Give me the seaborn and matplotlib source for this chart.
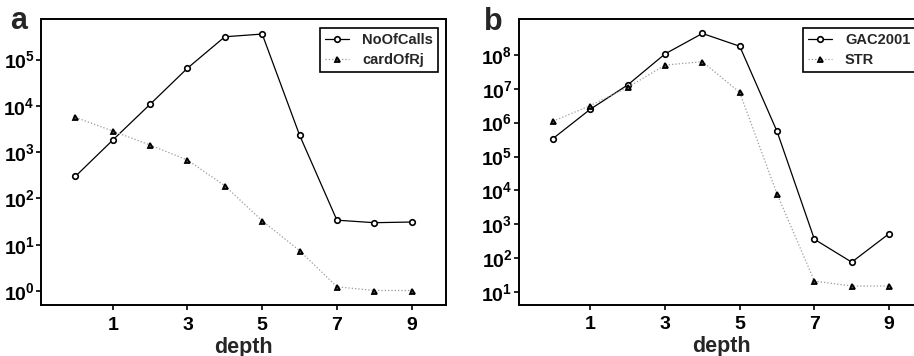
import math
import matplotlib
matplotlib.use("Agg")
import matplotlib.pyplot as plt
from matplotlib.ticker import FixedLocator, FuncFormatter, NullLocator
import seaborn as sns

# search depth on the x axis
depth = [0, 1, 2, 3, 4, 5, 6, 7, 8, 9]

# panel a: number of calls vs cardinality of R_j
no_of_calls = [300, 1820, 10800, 65000, 310000, 355000, 2340, 34, 30, 31]
card_of_rj = [5650, 2860, 1420, 676, 188, 33, 7.5, 1.24, 1.03, 1.03]

# panel b: GAC2001 vs STR
gac2001 = [3.4e5, 2.5e6, 1.3e7, 1.07e8, 4.3e8, 1.8e8, 5.5e5, 360, 76, 525]
str_counts = [1.1e6, 3.2e6, 1.1e7, 5.0e7, 6.3e7, 7.8e6, 7800, 21, 15, 15]

x_ticks = [1, 3, 5, 7, 9]
a_decades = [0, 1, 2, 3, 4, 5]
b_decades = [1, 2, 3, 4, 5, 6, 7, 8]

sns.set_style("ticks")
plt.rcParams["font.family"] = ["Liberation Sans", "DejaVu Sans"]
plt.rcParams["font.weight"] = "bold"
plt.rcParams["mathtext.fontset"] = "custom"
plt.rcParams["mathtext.rm"] = "Liberation Sans:bold"
plt.rcParams["mathtext.bf"] = "Liberation Sans:bold"
plt.rcParams["mathtext.it"] = "Liberation Sans:bold"

W, H = 914, 356
fig = plt.figure(figsize=(W / 100, H / 100), dpi=100)
ax_a = fig.add_axes([41 / W, (H - 305) / H, 405 / W, 286 / H])
ax_b = fig.add_axes([518.7 / W, (H - 304.5) / H, 404.7 / W, 285.5 / H])


def draw_solid(ax, values, label):
    sns.lineplot(x=depth, y=values, ax=ax, color="black", linewidth=0.9,
                 marker="o", markersize=4, markerfacecolor="white",
                 markeredgecolor="black", markeredgewidth=1.2, label=label)


def draw_dotted(ax, values, label):
    sns.lineplot(x=depth, y=values, ax=ax, color="#9a9a9a", linewidth=0.9,
                 linestyle=":", marker="^", markersize=3.6,
                 markerfacecolor="#555555", markeredgecolor="black",
                 markeredgewidth=1.3, label=label)


def decade_label(v, pos):
    return r"$\mathbf{10^{%d}}$" % round(math.log10(v))


def style_axes(ax, decades, ylim):
    ax.set_yscale("log")
    ax.set_xlim(-0.92, 9.92)
    ax.set_ylim(*ylim)
    ax.xaxis.set_major_locator(FixedLocator(x_ticks))
    ax.yaxis.set_major_locator(FixedLocator([10.0 ** k for k in decades]))
    ax.yaxis.set_minor_locator(NullLocator())
    ax.xaxis.set_minor_locator(NullLocator())
    ax.yaxis.set_major_formatter(FuncFormatter(decade_label))
    ax.xaxis.set_major_formatter(FuncFormatter(lambda v, p: "%d" % v))
    for s in ax.spines.values():
        s.set_linewidth(1.4)
        s.set_color("black")
    ax.tick_params(axis="both", direction="out", length=3.5, width=1.2,
                   labelsize=14, colors="black")
    ax.tick_params(axis="y", pad=1)
    ax.tick_params(axis="x", pad=5)
    ax.set_xlabel("depth", fontsize=15.5, fontweight="bold", labelpad=2)
    ax.set_ylabel("")
    leg = ax.legend(loc="upper right", bbox_to_anchor=(0.98, 0.968),
                    borderaxespad=0, frameon=True, fancybox=False,
                    edgecolor="black", framealpha=1,
                    prop={"weight": "bold", "size": 10.5},
                    handlelength=1.6, handletextpad=0.9, borderpad=0.35,
                    labelspacing=0.4)
    leg.get_frame().set_linewidth(1.2)


draw_solid(ax_a, no_of_calls, "NoOfCalls")
draw_dotted(ax_a, card_of_rj, "cardOfRj")
style_axes(ax_a, a_decades, (10 ** -0.3, 10 ** 5.875))

draw_solid(ax_b, gac2001, "GAC2001")
draw_dotted(ax_b, str_counts, "STR")
style_axes(ax_b, b_decades, (10 ** 0.63, 10 ** 9.06))

fig.text(10 / W, 1 - 29 / H, "a", fontsize=22, fontweight="bold")
fig.text(484 / W, 1 - 30 / H, "b", fontsize=22, fontweight="bold")

fig.savefig("out.png", dpi=100)
